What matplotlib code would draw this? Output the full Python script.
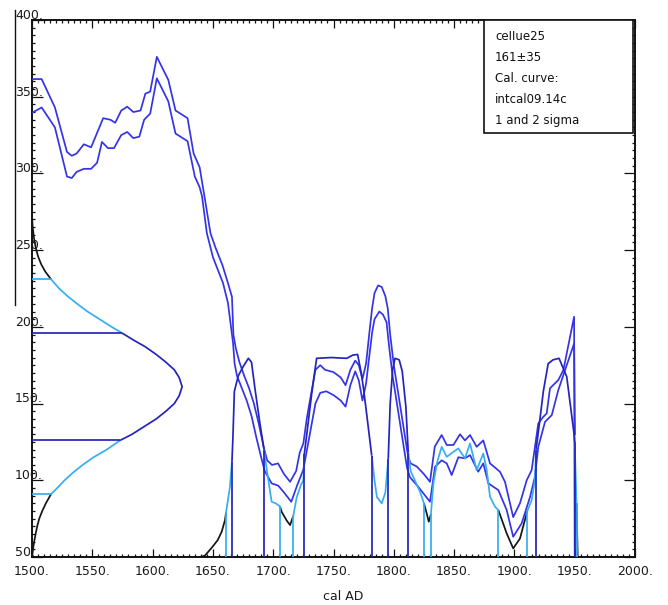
import numpy as np
import matplotlib
matplotlib.use("Agg")
import matplotlib.pyplot as plt
from matplotlib.transforms import blended_transform_factory
from matplotlib.lines import Line2D
from matplotlib.patches import Rectangle

# ---------------- data ----------------
x_ticks = [1500, 1550, 1600, 1650, 1700, 1750, 1800, 1850, 1900, 1950, 2000]
x_tick_labels = ["1500.", "1550.", "1600.", "1650.", "1700.", "1750.", "1800.",
                 "1850.", "1900.", "1950.", "2000."]
y_ticks = [50, 100, 150, 200, 250, 300, 350, 400]
y_tick_labels = ["50.", "100.", "150.", "200.", "250.", "300.", "350.", "400."]

# calibration curve band (cal AD -> 14C BP), upper line
cal_years_upper = [1500, 1508, 1519, 1529, 1533, 1537, 1543, 1549, 1559, 1565,
                   1569, 1574, 1579, 1584, 1590, 1594, 1598, 1603.5, 1613, 1619,
                   1629, 1634, 1639, 1643, 1648, 1652, 1658, 1662.5, 1665.8, 1667,
                   1669, 1672, 1676, 1680, 1684, 1688, 1692, 1695, 1699, 1704,
                   1709, 1714, 1719, 1722, 1725, 1728, 1735, 1739, 1743, 1750,
                   1756, 1760, 1764, 1768, 1771, 1774, 1777, 1780, 1782, 1784,
                   1787, 1790, 1793, 1795, 1797, 1800, 1804, 1808, 1812, 1814,
                   1819, 1825, 1830, 1834, 1839.7, 1843.9, 1849.4, 1854.9, 1859, 1863.2,
                   1868.7, 1874.2, 1879.8, 1888, 1892.2, 1899, 1904.6, 1910.2, 1914.3, 1919.8,
                   1924, 1926.8, 1929.5, 1936.4, 1940.6, 1949.5, 1950]
cal_upper = [361.5, 361.5, 343, 314, 311.5, 313, 319, 317, 336, 335,
             333, 341, 343.5, 340, 341, 352, 353.3, 376, 361, 341,
             336, 313, 304, 285, 261, 252, 240, 228.5, 219.6, 195,
             186, 177, 168, 160, 150, 137, 122, 113, 110, 111,
             104, 99, 106, 118, 124, 141, 172, 175, 172, 170.5,
             167, 162, 172, 178, 175, 166, 176, 198, 212, 222,
             227, 226, 220, 212, 195, 175, 155, 135, 115, 111,
             109, 104, 99, 122, 129.5, 123, 123, 130, 126, 129.5,
             121.8, 126, 111, 105.6, 99, 76, 85, 100, 106.6, 137,
             141.4, 143.6, 160, 165.3, 171.8, 206.6, 50]

# calibration curve band, lower line
cal_years_lower = [1500, 1508, 1519, 1529, 1533, 1537, 1543, 1549, 1554, 1558,
                   1563, 1568, 1574, 1579, 1584, 1589, 1593, 1598, 1603.5, 1613,
                   1619, 1629, 1635, 1639, 1641, 1645, 1650, 1658.4, 1662.5, 1666.7,
                   1668, 1670, 1674, 1678, 1682, 1686, 1690, 1693, 1698.7, 1704.2,
                   1709, 1715, 1720, 1725, 1730.5, 1735, 1739, 1744, 1750, 1756,
                   1760, 1764, 1768, 1771, 1774, 1777, 1780, 1782, 1784, 1788,
                   1791, 1794, 1796, 1799, 1803, 1807, 1811, 1813.4, 1820, 1826,
                   1830, 1834.2, 1839.7, 1843.9, 1848, 1853.5, 1859, 1863.2, 1870, 1874.2,
                   1878.4, 1886.7, 1893.6, 1899, 1906, 1913, 1917, 1919.8, 1925.4, 1931,
                   1936.4, 1949.5, 1950.2]
cal_lower = [339.5, 343, 330, 298, 297, 301, 303, 303, 307, 320.5,
             316.5, 316.5, 325, 327, 323, 324, 335, 339, 362, 347,
             326, 321, 298, 291, 285, 261, 245.5, 228.5, 215.5, 189.5,
             176, 168, 160, 152, 142, 128, 115, 106, 98, 96.5,
             92, 86, 97, 107, 130.6, 150, 157, 158, 155.5, 152,
             148, 162, 171, 165, 152, 163, 183, 196, 205, 210,
             208, 203, 188, 168, 148, 128, 108, 102, 96, 90,
             86, 108.8, 113, 111, 103.4, 115, 114.3, 116.4, 105.6, 111,
             98, 93.6, 80.6, 63.2, 71.9, 89.2, 102.3, 121.8, 138.1, 142.5,
             158.8, 189.2, 130]

# measured date 161±35 drawn on the BP axis (BP value, width in years)
gauss_bp = [50, 55, 60, 65, 70, 75, 80, 85, 91, 95,
            100, 105, 110, 115, 120, 126, 130, 135, 140, 145,
            150, 155, 161, 167, 172, 177, 182, 187, 191, 196,
            200, 205, 210, 215, 220, 225, 231, 236, 241, 246,
            252, 258, 265, 272]
gauss_width = [0, 0.8, 1.8, 3, 4.3, 6, 8.5, 11.5, 15.8, 21,
               27, 34, 42, 51, 62, 73, 83, 93, 103, 111,
               118, 122, 124.5, 122, 118, 111, 103, 94, 85, 74.6,
               66, 56, 46, 37.5, 29.5, 22.5, 15.8, 11, 7.5, 5,
               3, 1.6, 0.6, 0]
sigma1_bp = [126, 196]
sigma2_bp = [91, 231]

# calibrated probability curve (drawn from the 50 BP baseline)
prob_years = [1640, 1643.5, 1649, 1654, 1657.3, 1660, 1660.9, 1664, 1665.8, 1666.6,
              1667.8, 1671, 1675, 1679.4, 1682, 1685, 1689, 1692.4, 1695, 1698.7,
              1702, 1705.6, 1707, 1711, 1714, 1716.7, 1719.5, 1723, 1725, 1725.8,
              1728, 1732, 1736, 1748, 1761, 1766, 1770, 1773, 1775, 1778,
              1781.7, 1784, 1786, 1790, 1793, 1795.4, 1797, 1799, 1801, 1804.5,
              1807, 1810, 1812, 1814, 1818, 1822, 1825, 1827.3, 1829, 1830.8,
              1832.8, 1836, 1839.7, 1843.9, 1848.5, 1853.5, 1859, 1863.2, 1868.7, 1874.2,
              1877, 1879.8, 1884, 1886.7, 1893.6, 1899, 1904.6, 1910.7, 1914.3, 1917,
              1918, 1921.2, 1924, 1928, 1932, 1937, 1943.4, 1949.4, 1950, 1951.5,
              1952.5]
prob_values = [50, 51, 56, 61, 66.5, 74, 79, 95, 112, 128,
               158, 168, 174, 179.5, 177, 159, 137, 120, 105, 86,
               85, 83, 79.5, 74, 70.8, 77, 89, 97, 100, 117,
               131, 157, 179.5, 180, 179.5, 181.6, 182, 170, 159, 140,
               116, 100, 89, 85, 92, 114, 150, 172, 179.5, 178.5,
               171, 148, 118, 106, 99, 92, 85, 78.4, 73, 78,
               98, 112, 121.8, 115.3, 118, 120.8, 114.3, 124, 106.6, 117.5,
               107, 89.2, 82.7, 80.6, 65.4, 55.6, 62, 80, 87, 100,
               120, 140, 158, 176, 178.5, 179.5, 167.5, 130.6, 125, 85,
               50]

# 1 sigma and 2 sigma calibrated ranges (cal AD) and curve height at each bound
sigma1_starts = [1665.8, 1725.8, 1795.4, 1918]
sigma1_ends = [1692.4, 1781.7, 1812, 1950]
sigma1_start_h = [112, 117, 114, 120]
sigma1_end_h = [120, 116, 118, 125]
sigma2_starts = [1660.9, 1716.7, 1830.8, 1910.7]
sigma2_ends = [1705.6, 1825, 1886.7, 1951.5]
sigma2_start_h = [79, 77, 78, 80]
sigma2_end_h = [83, 85, 80.6, 85]

info_lines = ["ceIIue25", "161\u00b135", "Cal. curve:", "intcal09.14c", "1 and 2 sigma"]

# ---------------- styling ----------------
C_CAL = "#3434e6"
C_DARK = "#2424bc"
C_CYAN = "#35aef0"
C_BLACK = "#151515"
LW = 1.25
BASE = 50

fig = plt.figure(figsize=(6.68, 6.05), dpi=100)
ax = fig.add_axes([32 / 668, 1 - 557 / 605, 603 / 668, 537 / 605])
ax.set_xlim(1500, 2000)
ax.set_ylim(50, 400)


def classify(m):
    for s, e in zip(sigma1_starts, sigma1_ends):
        if s <= m <= e:
            return C_DARK
    for s, e in zip(sigma2_starts, sigma2_ends):
        if s <= m <= e:
            return C_CYAN
    return C_BLACK


def draw_colored(xs, ys, color_of, z):
    # split a polyline into runs of equal colour
    run_x, run_y = [xs[0]], [ys[0]]
    cur = None
    for i in range(len(xs) - 1):
        c = color_of(i)
        if cur is not None and c != cur:
            ax.plot(run_x, run_y, color=cur, lw=LW, zorder=z, solid_capstyle="butt")
            run_x, run_y = [xs[i]], [ys[i]]
        cur = c
        run_x.append(xs[i + 1])
        run_y.append(ys[i + 1])
    ax.plot(run_x, run_y, color=cur, lw=LW, zorder=z, solid_capstyle="butt")


# calibration curve band
ax.plot(cal_years_upper, cal_upper, color=C_CAL, lw=LW, zorder=3)
ax.plot(cal_years_lower, cal_lower, color=C_CAL, lw=LW, zorder=3)

# probability curve of calibrated date
draw_colored(prob_years, prob_values,
             lambda i: classify((prob_years[i] + prob_years[i + 1]) / 2), 4)

# range boundaries
ax.vlines(sigma2_starts, BASE, sigma2_start_h, color=C_CYAN, lw=LW, zorder=4)
ax.vlines(sigma2_ends, BASE, sigma2_end_h, color=C_CYAN, lw=LW, zorder=4)
ax.vlines(sigma1_starts, BASE, sigma1_start_h, color=C_DARK, lw=LW, zorder=4)
ax.vlines(sigma1_ends, BASE, sigma1_end_h, color=C_DARK, lw=LW, zorder=4)

# measured distribution on the BP axis
gx = [1500 + w for w in gauss_width]


def gcol(i):
    m = (gauss_bp[i] + gauss_bp[i + 1]) / 2
    if sigma1_bp[0] <= m <= sigma1_bp[1]:
        return C_DARK
    if sigma2_bp[0] <= m <= sigma2_bp[1]:
        return C_CYAN
    return C_BLACK


draw_colored(gx, gauss_bp, gcol, 4)
for b in sigma1_bp:
    ax.hlines(b, 1500, 1500 + gauss_width[gauss_bp.index(b)], color=C_DARK, lw=LW, zorder=4)
for b in sigma2_bp:
    ax.hlines(b, 1500, 1500 + gauss_width[gauss_bp.index(b)], color=C_CYAN, lw=LW, zorder=4)

# axes / ticks
ax.set_xticks(x_ticks)
ax.set_xticklabels(x_tick_labels)
ax.set_xticks(np.arange(1500, 2001, 5), minor=True)
ax.set_yticks(y_ticks)
ax.set_yticklabels([])
ax.set_yticks(np.arange(50, 401, 5), minor=True)
ax.tick_params(which="both", direction="in", top=True, right=True,
               width=0.9, color="#111111")
ax.tick_params(axis="x", which="major", length=5.5, pad=6, labelsize=9,
               labelcolor="#1a1a1a")
ax.tick_params(axis="y", which="major", length=8)
ax.tick_params(which="minor", length=2.5)
for sp in ax.spines.values():
    sp.set_linewidth(1.4)
    sp.set_color("#111111")

blend = blended_transform_factory(ax.transAxes, ax.transData)
for v, lab in zip(y_ticks, y_tick_labels):
    ax.text(-0.028, v + 3, lab, transform=blend, ha="left", va="center",
            fontsize=9, color="#1a1a1a", clip_on=False, zorder=6)

fig.text(343 / 668, 1 - 597 / 605, "cal AD", ha="center", va="center",
         fontsize=9, color="#1a1a1a")

# info box
ax.add_patch(Rectangle((0.7496, 0.7896), 0.2471, 0.2104, transform=ax.transAxes,
                       facecolor="white", edgecolor="#111111", lw=1.2, zorder=7))
for k, t in enumerate(info_lines):
    y_px = 36.7 + k * 21
    ax.text(0.768, 1 - (y_px - 20) / 537, t, transform=ax.transAxes, ha="left",
            va="center", fontsize=8.5, color="#111111", zorder=8)

# stray vertical rule at the far left of the picture
fig.add_artist(Line2D([15 / 668, 15 / 668], [1 - 10 / 605, 1 - 305 / 605],
                      color="#111111", lw=1.0))

fig.savefig("out.png", dpi=100)
